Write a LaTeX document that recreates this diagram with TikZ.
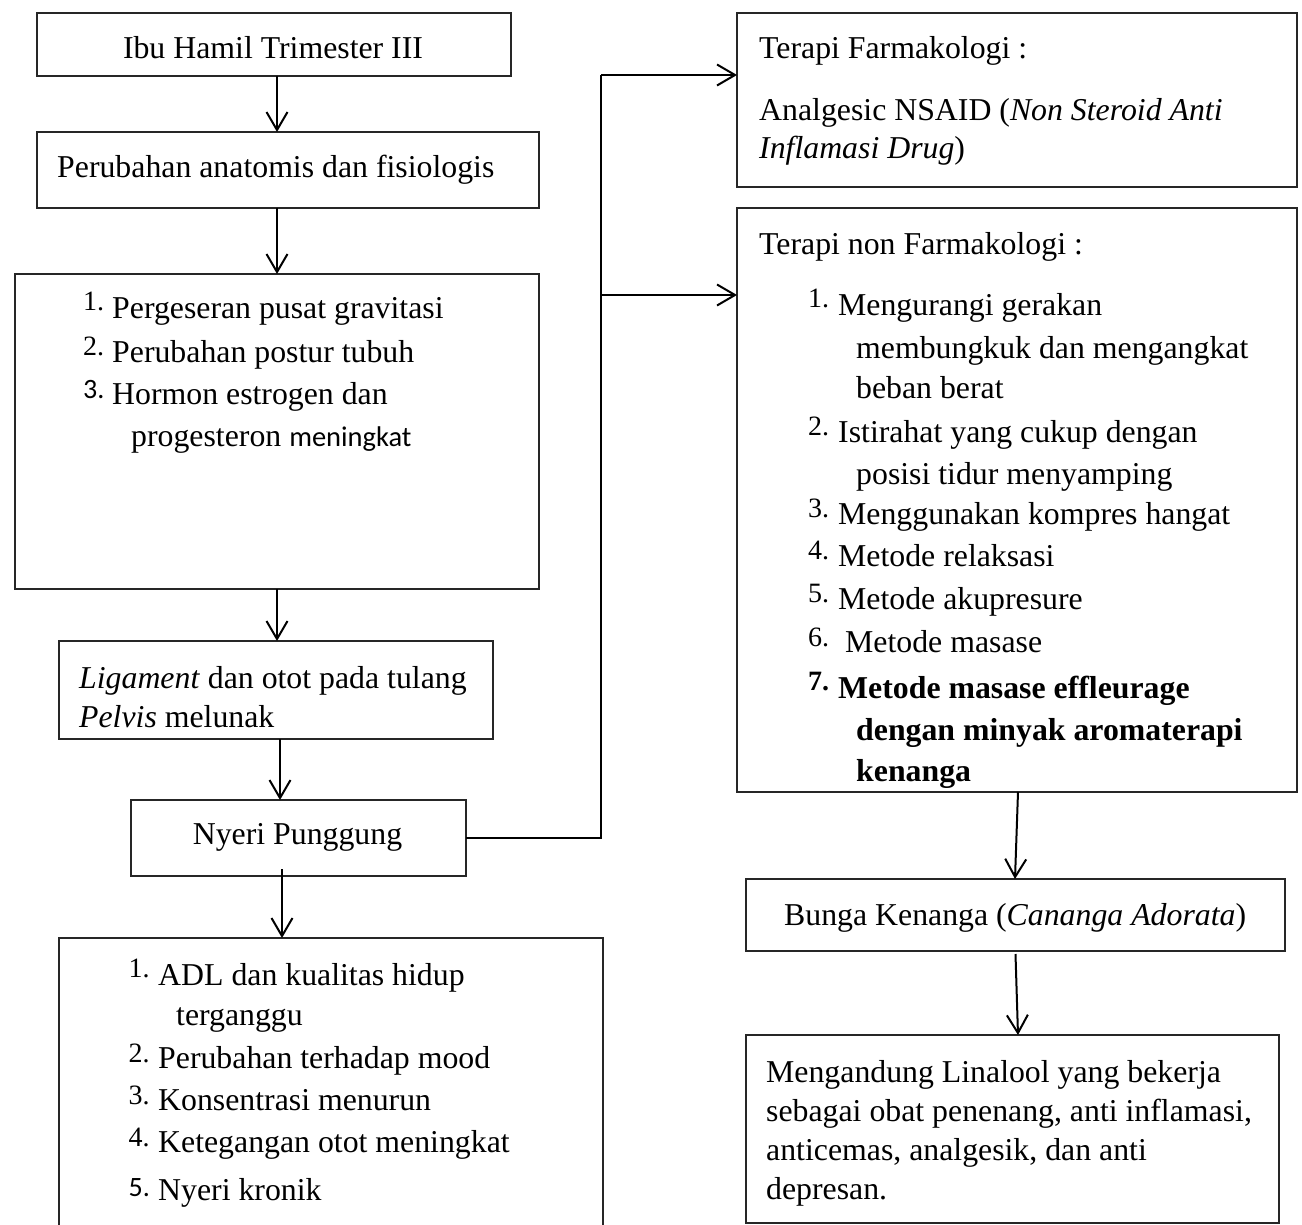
\documentclass[tikz,border=0pt]{standalone}
\usepackage{fontspec}
\setmainfont{Liberation Serif}
\newfontfamily\calfont{Carlito}
\usetikzlibrary{arrows.meta}
\begin{document}
\begin{tikzpicture}[x=1pt,y=-1pt,
  box/.style={draw=black!85, line width=1.3pt, rectangle, inner sep=0pt, outer sep=0pt},
  conn/.style={line width=2pt, black},
  arr/.style={conn, -{Straight Barb[length=18pt,width=21pt,line width=2pt]}},
  txt/.style={anchor=base west, inner sep=0pt, font=\fontsize{31.8}{38}\selectfont},
  num/.style={anchor=base west, inner sep=0pt, font=\fontsize{28}{30}\selectfont},
  cnum/.style={anchor=base west, inner sep=0pt, font=\fontsize{28}{30}\calfont},
]
\path[use as bounding box] (0,0) rectangle (1302,1225);
\clip (0,0) rectangle (1302,1225);

% boxes
\node[box, minimum width=474pt, minimum height=63pt] (A) at (274,44.5) {};
\node[box, minimum width=502pt, minimum height=76pt] (B) at (288,170) {};
\node[box, minimum width=524pt, minimum height=315pt] (C) at (277,431.5) {};
\node[box, minimum width=434pt, minimum height=98pt] (D) at (276,690) {};
\node[box, minimum width=335pt, minimum height=76pt] (E) at (298.5,838) {};
\node[box, minimum width=544pt, minimum height=322pt] (F) at (331,1099) {};
\node[box, minimum width=560pt, minimum height=174pt] (G) at (1017,100) {};
\node[box, minimum width=560pt, minimum height=584pt] (H) at (1017,500) {};
\node[box, minimum width=539pt, minimum height=72pt] (I) at (1015.5,915) {};
\node[box, minimum width=533pt, minimum height=188pt] (J) at (1012.5,1129) {};

% connectors
\draw[arr] (A.south -| C.north) -- (B.north -| C.north);
\draw[arr] (B.south -| C.north) -- (C.north);
\draw[arr] (C.south) -- (C.south |- D.north);
\draw[arr] ([xshift=4pt]D.south) -- ([xshift=4pt]D.south |- E.north);
\draw[arr] ([xshift=-16.5pt,yshift=7pt]E.south) -- ([xshift=-16.5pt]E.south |- F.north);
\coordinate (jt) at (601,75);
\coordinate (jb) at (601,295);
\draw[conn] (E.east) -| (jt);
\draw[arr] (jt) -- (jt -| G.west);
\draw[arr] (jb) -- (jb -| H.west);
\draw[arr] ([xshift=1pt]H.south) -- ([xshift=-0.5pt]I.north);
\draw[arr] ([yshift=-3pt]I.south) -- ([xshift=5.5pt]J.north);

% texts left column
\node[txt, anchor=base] (tA) at (273,59) {Ibu Hamil Trimester III};
\node[txt] (tB) at (57,178) {Perubahan anatomis dan fisiologis};

\node[num] (c1n) at (83,311) {1.};
\node[txt] (c1) at (112,318) {Pergeseran pusat gravitasi};
\node[num] (c2n) at (83,355) {2.};
\node[txt] (c2) at (112,362) {Perubahan postur tubuh};
\node[cnum] (c3n) at (83,398) {3.};
\node[txt] (c3) at (112,404) {Hormon estrogen dan};
\node[txt] (c3b) at (131,446) {progesteron {\fontsize{28.5}{30}\calfont meningkat}};

\node[txt] (d1) at (79,688) {\textit{Ligament} dan otot pada tulang};
\node[txt] (d2) at (79,727) {\textit{Pelvis} melunak};

\node[txt, anchor=base] (tE) at (297.5,844) {Nyeri Punggung};

\node[num] (f1n) at (128.5,977) {1.};
\node[txt] (f1) at (158,985) {ADL dan kualitas hidup};
\node[txt] (f1b) at (176,1025) {terganggu};
\node[num] (f2n) at (128.5,1062) {2.};
\node[txt] (f2) at (158,1068) {Perubahan terhadap mood};
\node[num] (f3n) at (128.5,1104) {3.};
\node[txt] (f3) at (158,1110) {Konsentrasi menurun};
\node[num] (f4n) at (128.5,1146) {4.};
\node[txt] (f4) at (158,1152) {Ketegangan otot meningkat};
\node[cnum] (f5n) at (128.5,1196) {5.};
\node[txt] (f5) at (158,1200) {Nyeri kronik};

% texts right column
\node[txt] (g1) at (759,59) {Terapi Farmakologi :};
\node[txt] (g2) at (759,120.5) {Analgesic NSAID (\textit{Non Steroid Anti}};
\node[txt] (g3) at (759,159) {\textit{Inflamasi Drug})};

\node[txt] (h0) at (759,254.5) {Terapi non Farmakologi :};
\node[num] (h1n) at (808,308) {1.};
\node[txt] (h1) at (838,316) {Mengurangi gerakan};
\node[txt] (h1b) at (856,358) {membungkuk dan mengangkat};
\node[txt] (h1c) at (856,398) {beban berat};
\node[num] (h2n) at (808,435) {2.};
\node[txt] (h2) at (838,442) {Istirahat yang cukup dengan};
\node[txt] (h2b) at (856,484) {posisi tidur menyamping};
\node[num] (h3n) at (808,517) {3.};
\node[txt] (h3) at (838,524) {Menggunakan kompres hangat};
\node[num] (h4n) at (808,559) {4.};
\node[txt] (h4) at (838,566) {Metode relaksasi};
\node[num] (h5n) at (808,602) {5.};
\node[txt] (h5) at (838,609) {Metode akupresure};
\node[num] (h6n) at (808,646) {6.};
\node[txt] (h6) at (845,652) {Metode masase};
\node[num, font=\fontsize{28}{30}\bfseries] (h7n) at (808,690) {7.};
\node[txt, font=\fontsize{31.8}{38}\bfseries] (h7) at (838,698) {Metode masase effleurage};
\node[txt, font=\fontsize{31.8}{38}\bfseries] (h7b) at (856,740) {dengan minyak aromaterapi};
\node[txt, font=\fontsize{31.8}{38}\bfseries] (h7c) at (856,781) {kenanga};

\node[txt] (tI) at (784,925) {Bunga Kenanga (\textit{Cananga Adorata})};

\node[txt] (j1) at (766,1082) {Mengandung Linalool yang bekerja};
\node[txt] (j2) at (766,1121) {sebagai obat penenang, anti inflamasi,};
\node[txt] (j3) at (766,1160) {anticemas, analgesik, dan anti};
\node[txt] (j4) at (766,1199) {depresan.};
\end{tikzpicture}
\end{document}
